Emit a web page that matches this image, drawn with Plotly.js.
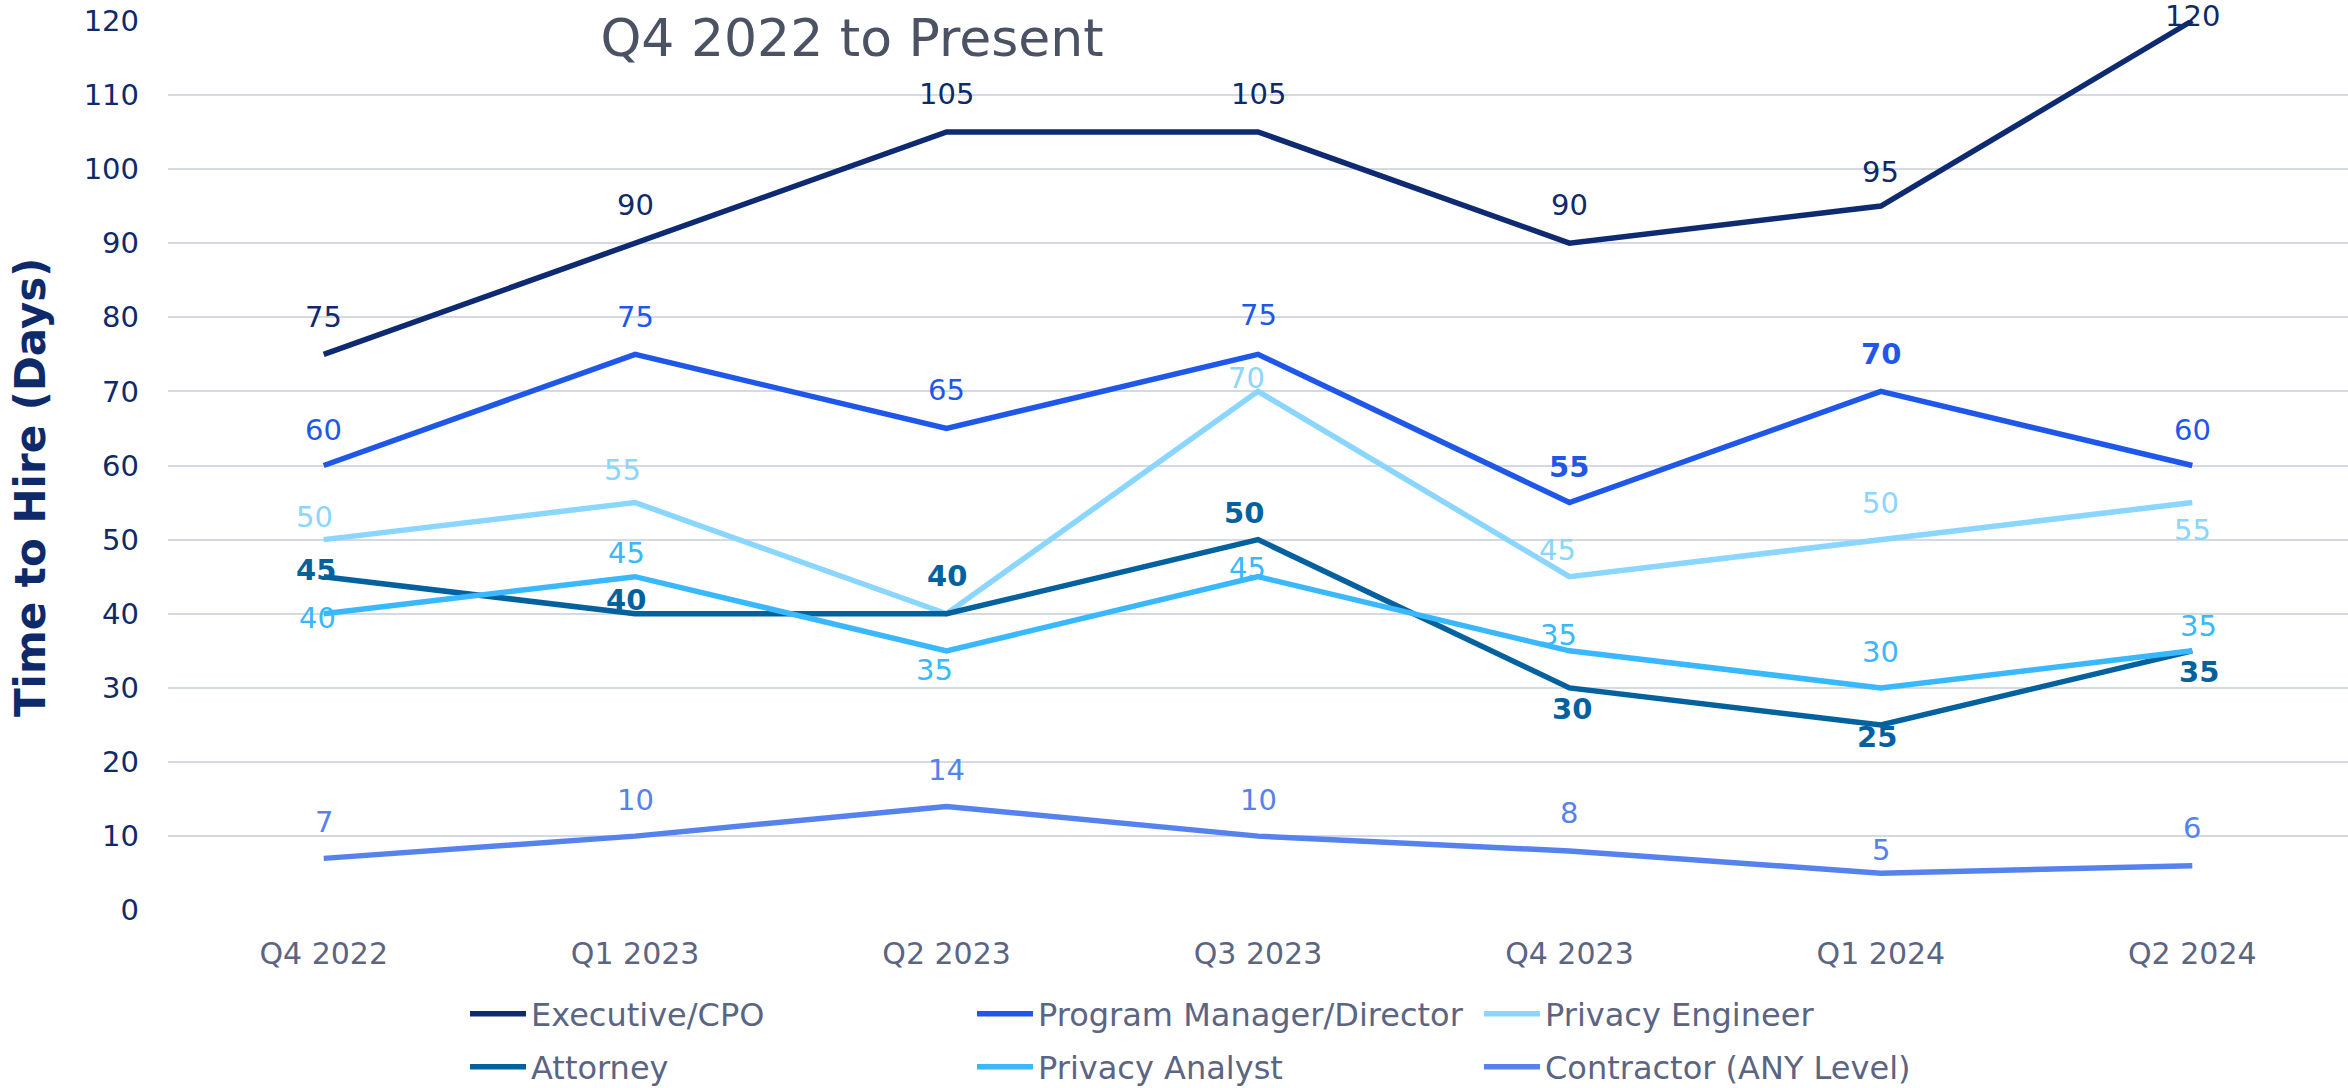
<!DOCTYPE html>
<html><head><meta charset="utf-8">
<script src="https://cdn.plot.ly/plotly-3.0.1.min.js"></script>
<style>html,body{margin:0;padding:0;background:#fff}#chart{width:2348px;height:1088px}</style>
</head><body><div id="chart"></div>
<script>
// ---- data ----
const quarters = ["Q4 2022","Q1 2023","Q2 2023","Q3 2023","Q4 2023","Q1 2024","Q2 2024"];
const seriesNames = ["Executive/CPO","Program Manager/Director","Privacy Engineer","Attorney","Privacy Analyst","Contractor (ANY Level)"];
const executiveCPO = [75,90,105,105,90,95,120];
const programManagerDirector = [60,75,65,75,55,70,60];
const privacyEngineer = [50,55,40,70,45,50,55];
const attorney = [45,40,40,50,30,25,35];
const privacyAnalyst = [40,45,35,45,35,30,35];
const contractorAnyLevel = [7,10,14,10,8,5,6];
const yTickValues = [0,10,20,30,40,50,60,70,80,90,100,110,120];
const seriesValues = [executiveCPO, programManagerDirector, privacyEngineer, attorney, privacyAnalyst, contractorAnyLevel];

// ---- style (label offsets in px relative to point, colors, weights) ----
const FONT = '"DejaVu Sans", sans-serif';
const styles = [
  {line:'#0E2A71', text:'#0E2A6B', legend:'legend',
   dx:[0,0,0,0,0,0,0], dy:[-37,-38,-38,-38,-38,-34,-5], bold:[0,0,0,0,0,0,0]},
  {line:'#1F58E8', text:'#1F58E8', legend:'legend',
   dx:[0,0,0,0,0,0,0], dy:[-36,-37,-38,-39,-36,-37,-36], bold:[0,0,0,0,1,1,0]},
  {line:'#8AD6FE', text:'#8AD6FE', legend:'legend',
   dx:[-9,-13,0,-12,-12,0,0], dy:[-23,-33,-38,-13,-27,-37,27], bold:[0,0,0,0,0,0,0]},
  {line:'#03629E', text:'#03629E', legend:'legend2',
   dx:[-8,-9,0,-14,3,-4,7], dy:[-7,-14,-38,-27,21,12,21], bold:[1,1,1,1,1,1,1]},
  {line:'#3AB8FE', text:'#3AB8FE', legend:'legend2',
   dx:[-6,-9,-12,-11,-11,0,6], dy:[4,-24,19,-9,-16,-36,-25], bold:[0,0,0,0,0,0,0]},
  {line:'#5682EE', text:'#5682EE', legend:'legend2',
   dx:[0,0,0,0,0,0,0], dy:[-36,-36,-36,-36,-38,-23,-38], bold:[0,0,0,0,0,0,0]}
];

const traces = seriesValues.map((vals, i) => ({
  type:'scatter', mode:'lines', name: seriesNames[i],
  x: quarters, y: vals,
  line:{color: styles[i].line, width:5.5},
  legend: styles[i].legend,
  hoverinfo:'skip'
}));

const annotations = [];
seriesValues.forEach((vals, i) => {
  vals.forEach((v, j) => {
    annotations.push({
      x: quarters[j], y: v, xref:'x', yref:'y', text: String(v), showarrow:false,
      xanchor:'center', yanchor:'middle',
      xshift: styles[i].dx[j], yshift: -styles[i].dy[j],
      font:{family:FONT, size:29, color: styles[i].text, weight: styles[i].bold[j] ? 700 : 400}
    });
  });
});

// y-axis title drawn as a rotated annotation so it can sit where the reference has it
annotations.push({
  text:'Time to Hire (Days)', textangle:-90, showarrow:false,
  xref:'paper', yref:'paper', x:(30-168)/2180, y:(910-487)/889, xanchor:'center', yanchor:'middle',
  font:{family:FONT, size:42, color:'#0E2A6B', weight:700}
});

const ITEMW = 56;
const legendBase = {
  orientation:'h', xref:'container', yref:'container', xanchor:'left', yanchor:'middle',
  x: 465/2348, entrywidth:436, entrywidthmode:'pixels', traceorder:'normal',
  font:{family:FONT, size:32, color:'#5B6583'}, bgcolor:'rgba(0,0,0,0)', itemwidth:ITEMW
};

const layout = {
  width:2348, height:1088,
  margin:{l:168, r:0, t:20, b:177, pad:0},
  paper_bgcolor:'#ffffff', plot_bgcolor:'#ffffff',
  font:{family:FONT, color:'#5B6583'},
  title:{text:'Q4 2022 to Present', font:{family:FONT, size:52, color:'#4A5263'},
         xref:'container', yref:'container', x:852/2348, xanchor:'center', y:1-38/1088, yanchor:'middle'},
  xaxis:{type:'category', range:[-0.5,6.5], showgrid:false, showline:false, zeroline:false, ticks:'',
         tickfont:{family:FONT, size:30, color:'#5B6583'}, ticklabelstandoff:22, fixedrange:true},
  yaxis:{range:[-0.1,120.1], tickmode:'array', tickvals:yTickValues, showline:false, zeroline:false, ticks:'',
         gridcolor:'#D5D9E3', gridwidth:2,
         tickfont:{family:FONT, size:29, color:'#0E2A6B'}, ticklabelstandoff:28},
  showlegend:true,
  legend: Object.assign({}, legendBase, {y: 1-1014/1088}),
  legend2: Object.assign({}, legendBase, {y: 1-1067/1088}),
  annotations: annotations
};

Plotly.newPlot('chart', traces, layout, {staticPlot:true, displayModeBar:false});
</script>
</body></html>
